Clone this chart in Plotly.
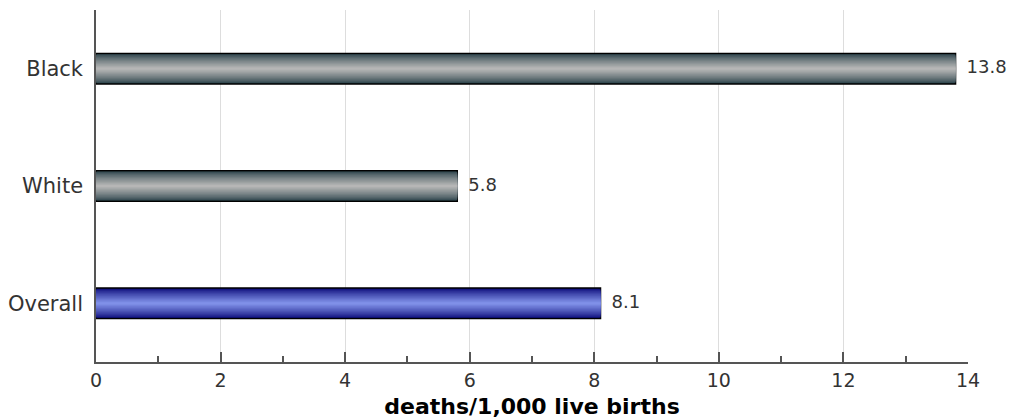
import plotly.graph_objects as go

categories = ["Overall", "White", "Black"]
values = [8.1, 5.8, 13.8]
value_labels = ["8.1", "5.8", "13.8"]
x_tick_vals = [0, 2, 4, 6, 8, 10, 12, 14]
x_title = "deaths/1,000 live births"

# gradient colours (edge -> centre) per bar
edge_cols = [(10, 10, 120), (40, 64, 72), (40, 64, 72)]
centre_cols = [(128, 144, 232), (182, 182, 182), (182, 182, 182)]

BAR_W = 0.26
N = 14

def mix(a, b, t):
    return "rgb(%d,%d,%d)" % tuple(round(a[k] + (b[k] - a[k]) * t) for k in range(3))

fig = go.Figure()
for i in range(N):
    t = i / (N - 1)
    w = BAR_W * (1 - i / N)
    cols = [mix(edge_cols[j], centre_cols[j], t ** 0.8) for j in range(len(categories))]
    fig.add_trace(go.Bar(
        y=categories, x=values, orientation="h",
        width=[w] * len(categories),
        marker=dict(color=cols,
                    line=dict(color="black" if i == 0 else "rgba(0,0,0,0)",
                              width=1.5 if i == 0 else 0)),
        showlegend=False, hoverinfo="skip" if i else "x+y",
    ))

fig.add_trace(go.Scatter(
    y=categories, x=values, mode="markers+text",
    text=value_labels, textposition="middle right",
    marker=dict(size=16, opacity=0),
    textfont=dict(family="DejaVu Sans", size=18, color="#333333"),
    showlegend=False, hoverinfo="skip", cliponaxis=False,
))

fig.update_layout(
    width=1014, height=419,
    margin=dict(l=96, r=46, t=10, b=57, autoexpand=False),
    barmode="overlay",
    plot_bgcolor="white", paper_bgcolor="white",
    font=dict(family="DejaVu Sans", size=19, color="#333333"),
)
fig.update_xaxes(
    automargin=False,
    range=[0, 14], tickvals=x_tick_vals,
    showgrid=True, gridcolor="#dddddd", gridwidth=1,
    showline=True, linecolor="#555555", linewidth=1.5,
    ticks="inside", ticklen=10, tickwidth=1.5, tickcolor="#555555",
    minor=dict(dtick=1, ticks="inside", ticklen=6, tickwidth=1.5,
               tickcolor="#555555", showgrid=False),
    zeroline=False,
    tickfont=dict(family="DejaVu Sans", size=19, color="#333333"),
    title=dict(text="<b>" + x_title + "</b>", standoff=10,
               font=dict(family="DejaVu Sans", size=22, color="black")),
)
fig.update_yaxes(
    automargin=False,
    categoryorder="array", categoryarray=categories,
    range=[-0.5, 2.5],
    showgrid=False, showline=True, linecolor="#555555", linewidth=1.5,
    ticks="", ticklabelstandoff=7,
    tickfont=dict(family="DejaVu Sans", size=21, color="#333333"),
)

fig.write_html("out.html", config={"displayModeBar": False})

with open("out.html", "r", encoding="utf-8") as f:
    html = f.read()
html = html.replace("<body>", '<body style="margin:0;padding:0;overflow:hidden">', 1)
with open("out.html", "w", encoding="utf-8") as f:
    f.write(html)
